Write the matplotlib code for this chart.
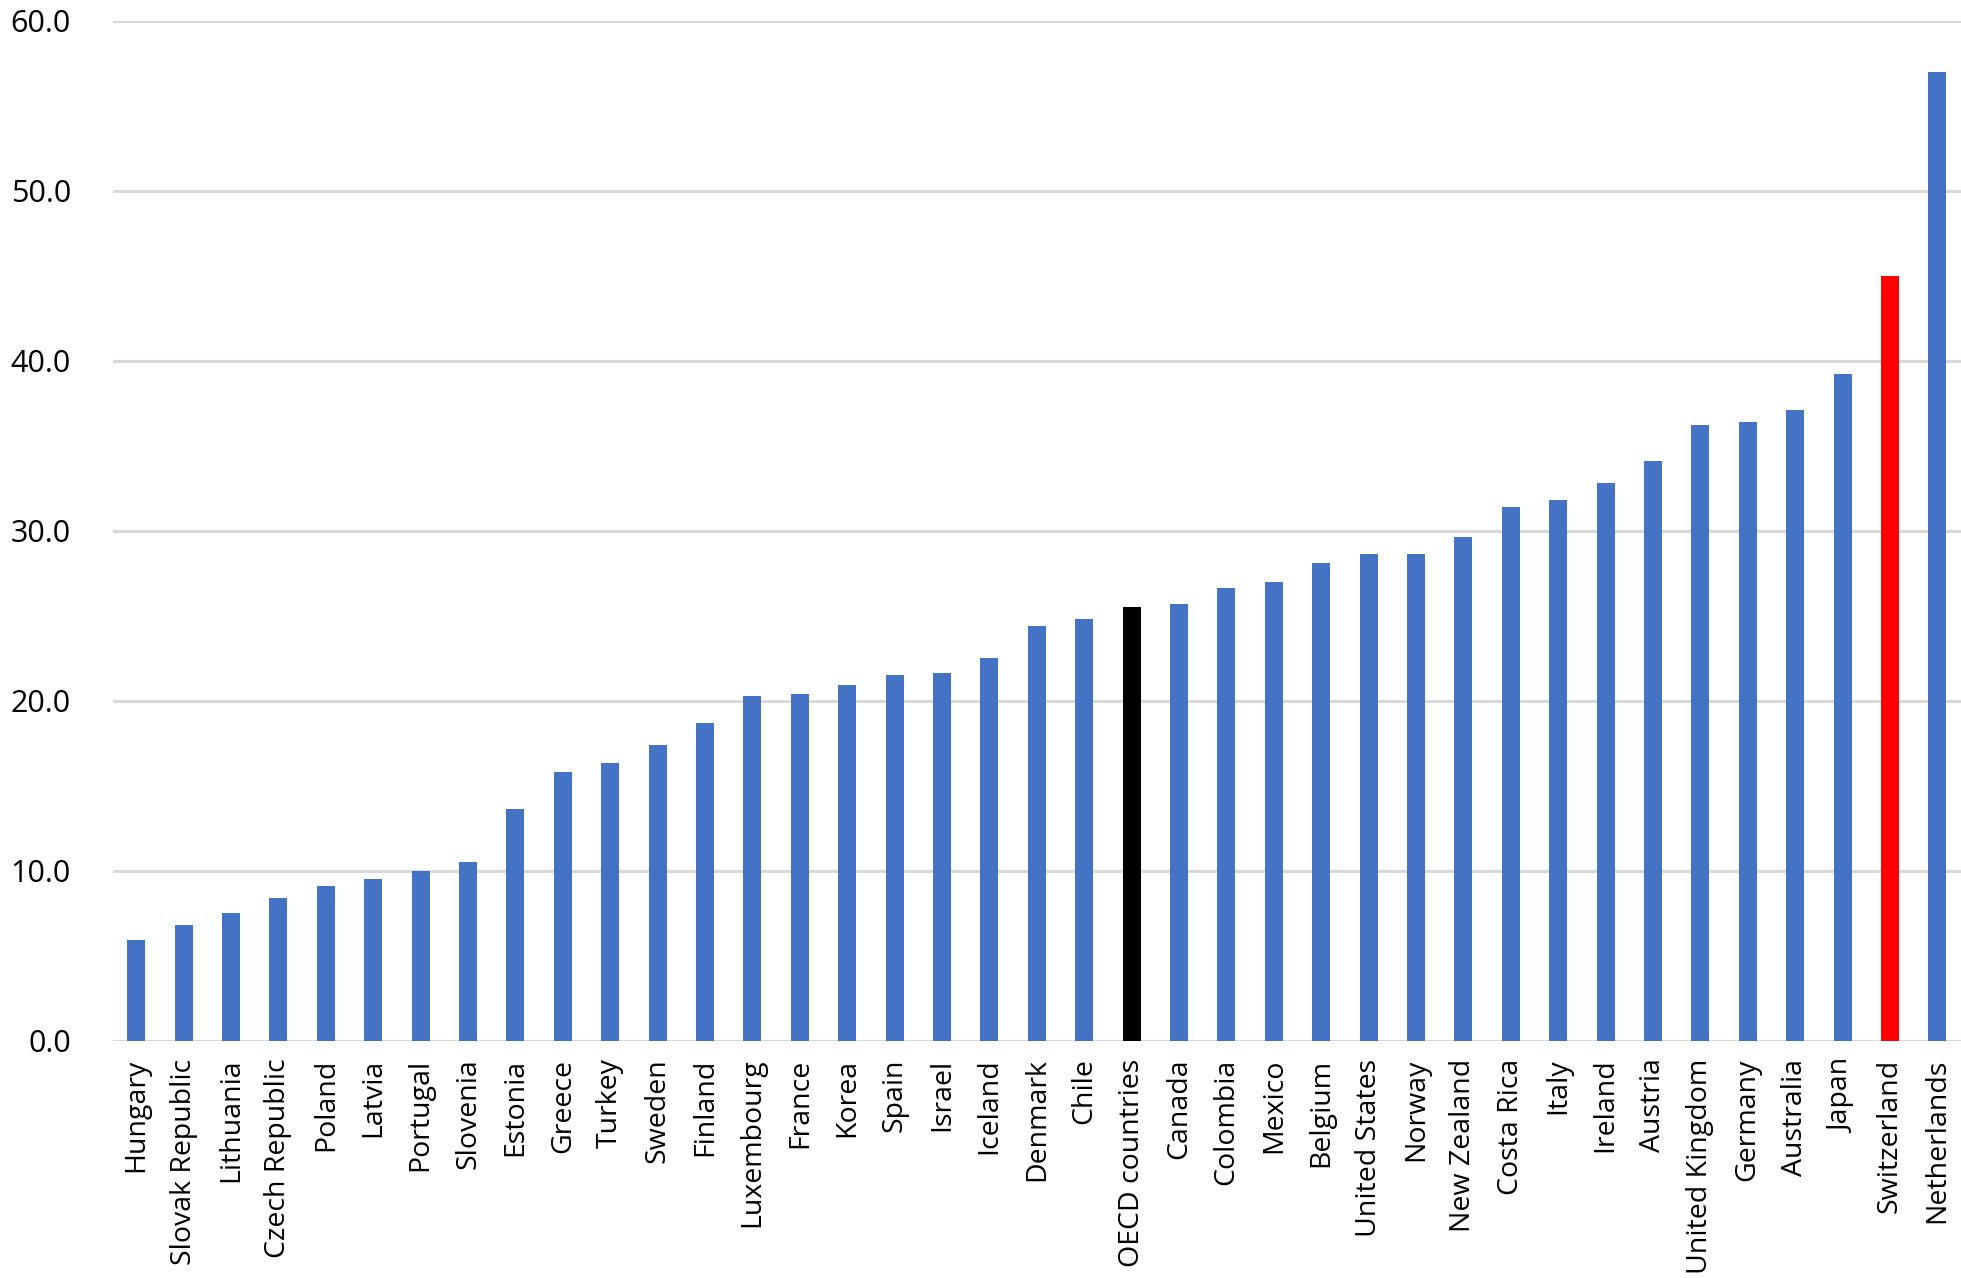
import matplotlib
matplotlib.use("Agg")
import matplotlib.pyplot as plt

countries = ["Hungary", "Slovak Republic", "Lithuania", "Czech Republic", "Poland",
             "Latvia", "Portugal", "Slovenia", "Estonia", "Greece", "Turkey", "Sweden",
             "Finland", "Luxembourg", "France", "Korea", "Spain", "Israel", "Iceland",
             "Denmark", "Chile", "OECD countries", "Canada", "Colombia", "Mexico",
             "Belgium", "United States", "Norway", "New Zealand", "Costa Rica", "Italy",
             "Ireland", "Austria", "United Kingdom", "Germany", "Australia", "Japan",
             "Switzerland", "Netherlands"]
values = [5.9, 6.8, 7.5, 8.4, 9.1, 9.5, 10.0, 10.5, 13.6, 15.8, 16.3, 17.4,
          18.7, 20.3, 20.4, 20.9, 21.5, 21.6, 22.5, 24.4, 24.8, 25.5, 25.7, 26.6,
          27.0, 28.1, 28.6, 28.6, 29.6, 31.4, 31.8, 32.8, 34.1, 36.2, 36.4, 37.1,
          39.2, 45.0, 57.0]
yticks = [0, 10, 20, 30, 40, 50, 60]

colors = []
for c in countries:
    if c == "OECD countries":
        colors.append("#000000")
    elif c == "Switzerland":
        colors.append("#FF0000")
    else:
        colors.append("#4472C4")

plt.rcParams['font.family'] = ['Open Sans', 'DejaVu Sans']

fig = plt.figure(figsize=(19.61, 12.78), dpi=100)
ax = fig.add_axes([0.0574, 0.1858, 1 - 0.0574, 0.9838 - 0.1858])
x = list(range(len(countries)))
ax.bar(x, values, width=0.38, color=colors, zorder=3)
ax.set_xlim(-0.5, len(countries) - 0.5)
ax.set_ylim(0, 60)
ax.set_yticks(yticks)
ax.set_yticklabels([f"{v:.1f}" for v in yticks])
ax.set_xticks(x)
ax.set_xticklabels(countries, rotation=90, ha='center', va='top')
ax.grid(axis='y', color='#D9D9D9', linewidth=2.2, zorder=0)
for s in ax.spines.values():
    s.set_visible(False)
ax.tick_params(axis='y', length=0, pad=30, labelsize=22)
ax.tick_params(axis='x', length=0, pad=13, labelsize=20.5)
fig.savefig("out.png", dpi=100, facecolor='white')
